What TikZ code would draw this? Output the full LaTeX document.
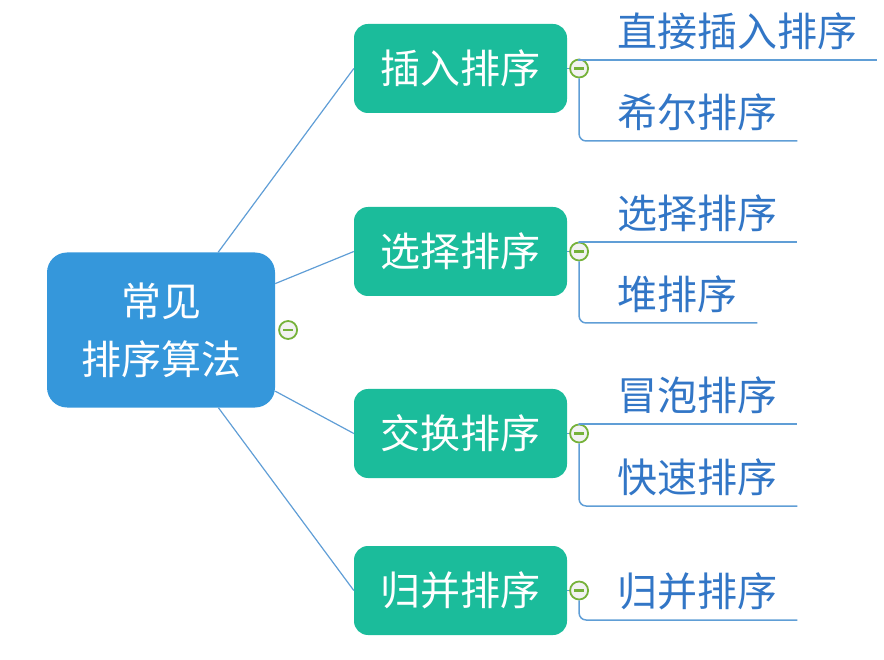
\documentclass[tikz,border=0pt]{standalone}
\usepackage{fontspec}
\setmainfont{Noto Sans CJK SC}
\usepackage{xcolor}
\usepackage{tikz}
\usetikzlibrary{positioning}
\definecolor{rootblue}{RGB}{53,151,219}
\definecolor{subteal}{RGB}{27,188,155}
\definecolor{linkblue}{RGB}{96,158,214}
\definecolor{leafblue}{RGB}{50,118,198}
\definecolor{foldgreen}{RGB}{118,178,58}
\tikzset{
  topic/.style={rounded corners=20pt, fill=rootblue, text=white, minimum width=228pt, minimum height=155pt, align=center, font=\fontsize{40}{58}\selectfont},
  subtopic/.style={rounded corners=14pt, fill=subteal, text=white, minimum width=213pt, minimum height=89pt, align=center, font=\fontsize{40}{48}\selectfont},
  leaf/.style={anchor=south west, text=leafblue, inner xsep=20pt, inner ysep=10pt, font=\fontsize{40}{48}\selectfont},
  fold/.style={circle, draw=foldgreen, line width=1.8pt, fill=gray!10, minimum size=18pt, inner sep=0pt,
    path picture={\draw[foldgreen, line width=2.8pt] ([xshift=4pt]path picture bounding box.west) -- ([xshift=-4pt]path picture bounding box.east);}},
  link/.style={draw=linkblue, line width=1.2pt},
  branch/.style={draw=linkblue, line width=1.5pt},
  lowbranch/.style={branch, rounded corners=7pt}
}

\begin{document}
\begin{tikzpicture}[x=1pt,y=-1pt]
  \useasboundingbox (0,0) rectangle (884,660);

  \node[topic] (root) at (161,330) {常见\\排序算法};
  \node[fold, right=3pt of root] (rootfold) {};

  \node[subtopic] (insert) at (460.5,68.5) {插入排序};
  \node[subtopic] (select) at (460.5,251.5) {选择排序};
  \node[subtopic] (swap) at (460.5,433.5) {交换排序};
  \node[subtopic] (merge) at (460.5,590.5) {归并排序};

  \foreach \s in {insert,select,swap,merge}
    {\draw[link] (root) -- (\s.west);
     \node[fold, right=2pt of \s] (\s fold) {};
     \draw[link] (\s.east) -- (\s fold.west);}

  \node[leaf] (direct) at (597,60) {直接插入排序};
  \node[leaf] (shell) at (597,141) {希尔排序};
  \node[leaf] (simple) at (597,242) {选择排序};
  \node[leaf] (heap) at (597,323) {堆排序};
  \node[leaf] (bubble) at (597,424) {冒泡排序};
  \node[leaf] (quick) at (597,506) {快速排序};
  \node[leaf] (mergeleaf) at (597,620) {归并排序};

  \draw[branch] (insertfold.north) |- (direct.south east);
  \draw[lowbranch] (insertfold.south) |- (shell.south east);
  \draw[branch] (selectfold.north) |- (simple.south east);
  \draw[lowbranch] (selectfold.south) |- (heap.south east);
  \draw[branch] (swapfold.north) |- (bubble.south east);
  \draw[lowbranch] (swapfold.south) |- (quick.south east);
  \draw[lowbranch] (mergefold.south) |- (mergeleaf.south east);
\end{tikzpicture}
\end{document}
